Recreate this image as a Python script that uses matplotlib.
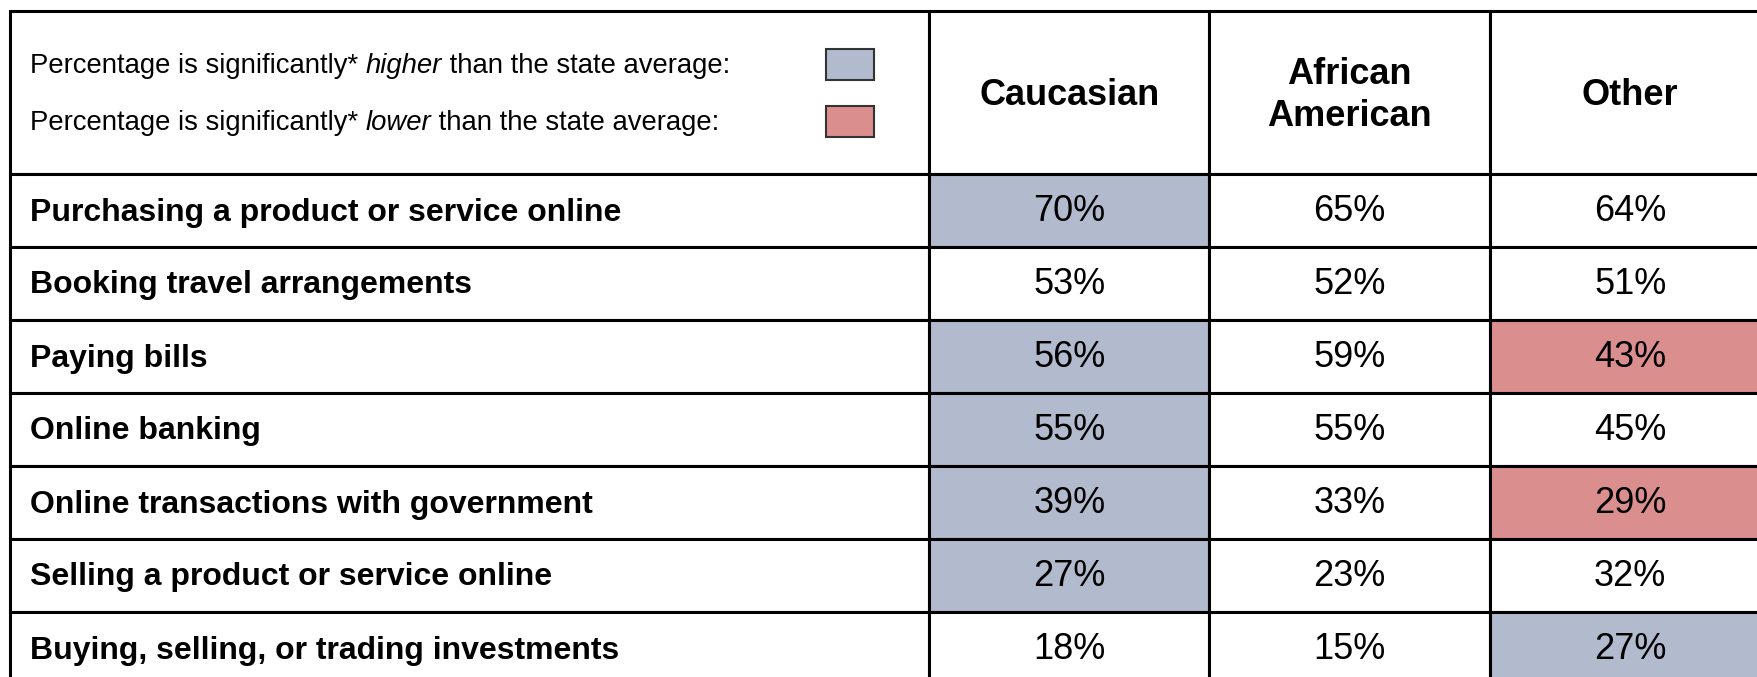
import matplotlib.pyplot as plt
from matplotlib.patches import Rectangle

plt.rcParams['font.family'] = ['Liberation Sans', 'DejaVu Sans']

# data
groups = ["Caucasian", "African\nAmerican", "Other"]
activities = [
    "Purchasing a product or service online",
    "Booking travel arrangements",
    "Paying bills",
    "Online banking",
    "Online transactions with government",
    "Selling a product or service online",
    "Buying, selling, or trading investments",
]
caucasian = [70, 53, 56, 55, 39, 27, 18]
african_american = [65, 52, 59, 55, 33, 23, 15]
other = [64, 51, 43, 45, 29, 32, 27]
# significance vs state average: 'h' higher, 'l' lower, '' none
caucasian_sig = ['h', '', 'h', 'h', 'h', 'h', '']
african_american_sig = ['', '', '', '', '', '', '']
other_sig = ['', '', 'l', '', 'l', '', 'h']

values = [caucasian, african_american, other]
sig = [caucasian_sig, african_american_sig, other_sig]

HIGH = '#B2BACE'
LOW = '#DA8E8E'
fills = {'h': HIGH, 'l': LOW, '': 'white'}

# layout (pixels)
W, H = 1758, 677
x0, lab_w, col_w = 10, 919, 280.5
y0, head_h, row_h = 11, 163, 73
lw = 2.2

fig = plt.figure(figsize=(W / 100, H / 100), dpi=100)
ax = fig.add_axes([0, 0, 1, 1])
ax.set_xlim(0, W)
ax.set_ylim(H, 0)
ax.axis('off')

def cell(x, y, w, h, fc='white'):
    ax.add_patch(Rectangle((x, y), w, h, facecolor=fc, edgecolor='black',
                           linewidth=lw, zorder=1))

# header
cell(x0, y0, lab_w, head_h)
for j, g in enumerate(groups):
    cx = x0 + lab_w + j * col_w
    cell(cx, y0, col_w, head_h)
    ax.text(cx + col_w / 2, y0 + head_h / 2 + 3, g, ha='center', va='center',
            fontsize=26, fontweight='bold', linespacing=1.25)

# legend inside header
leg_y = [y0 + 53, y0 + 110]
leg_words = [("higher", HIGH), ("lower", LOW)]
for yy, (word, col) in zip(leg_y, leg_words):
    t1 = ax.text(30, yy + 2, "Percentage is significantly* ", ha='left',
                 va='center', fontsize=19.8)
    t2 = ax.annotate(word, xy=(1, 0), xycoords=t1, ha='left', va='bottom',
                     fontsize=19.8, fontstyle='italic')
    ax.annotate(" than the state average:", xy=(1, 0), xycoords=t2,
                ha='left', va='bottom', fontsize=19.8)
    ax.add_patch(Rectangle((826, yy - 15), 48, 31, facecolor=col,
                           edgecolor='#333333', linewidth=1.5, zorder=2))

# body
for i, act in enumerate(activities):
    ry = y0 + head_h + i * row_h
    cell(x0, ry, lab_w, row_h)
    ax.text(x0 + 20, ry + row_h / 2 + 2, act, ha='left', va='center',
            fontsize=23, fontweight='bold')
    for j in range(len(groups)):
        cx = x0 + lab_w + j * col_w
        cell(cx, ry, col_w, row_h, fills[sig[j][i]])
        ax.text(cx + col_w / 2, ry + row_h / 2 + 1, f"{values[j][i]}%",
                ha='center', va='center', fontsize=26, zorder=3)

fig.savefig('out.png', dpi=100)
